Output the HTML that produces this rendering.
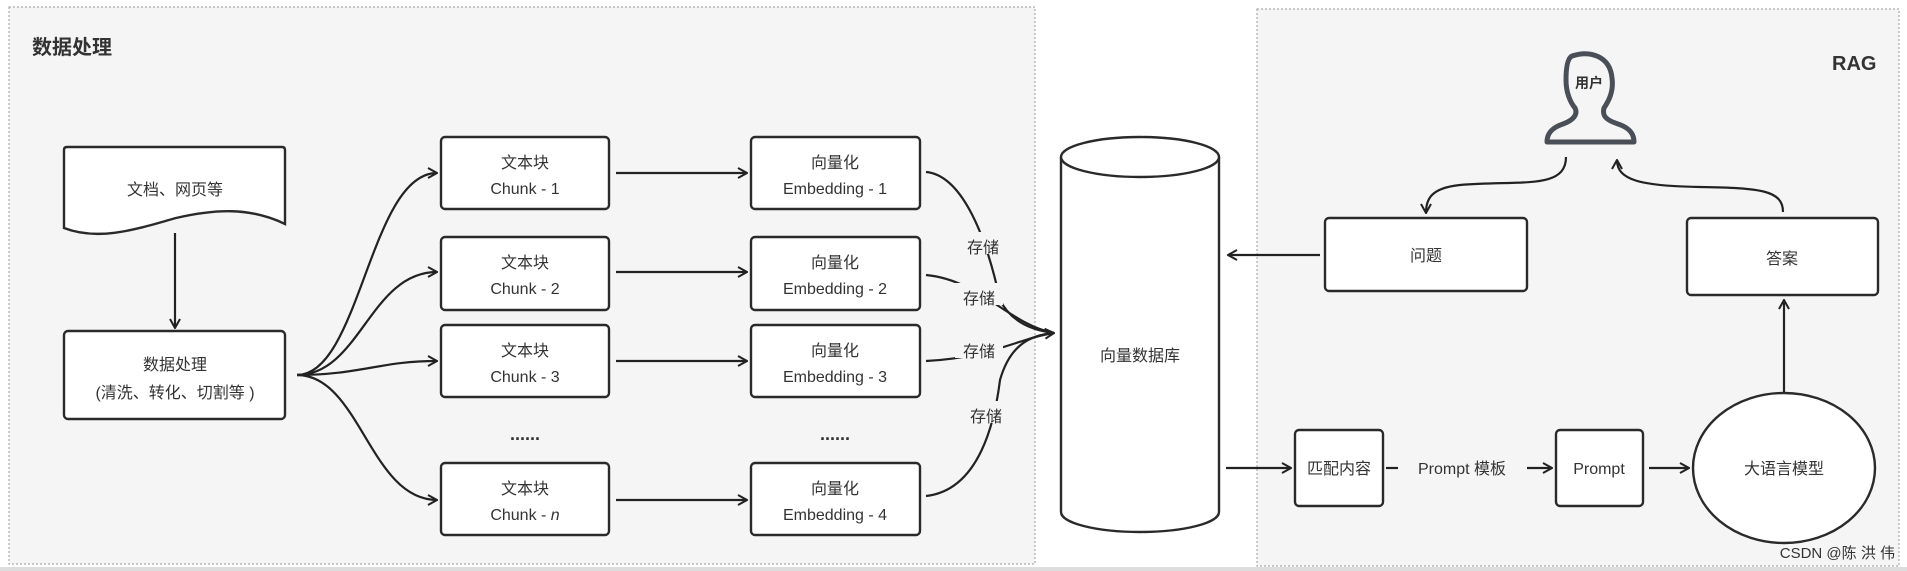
<!DOCTYPE html>
<html><head><meta charset="utf-8"><style>
html,body{margin:0;padding:0;background:#fff;width:1907px;height:571px;overflow:hidden}
svg{display:block}
text{font-family:"Liberation Sans","Noto Sans CJK SC",sans-serif;fill:#333}
</style></head><body>
<svg width="1907" height="571" viewBox="0 0 1907 571" xmlns="http://www.w3.org/2000/svg">
<defs>
<marker id="a" viewBox="0 0 12 12" refX="11" refY="6" markerWidth="12" markerHeight="12" markerUnits="userSpaceOnUse" orient="auto">
<polyline points="2,1 11,6 2,11" fill="none" stroke="#222" stroke-width="2"/>
</marker>
</defs>
<rect x="0" y="0" width="1907" height="571" fill="#fff"/>
<rect x="9" y="7" width="1026" height="557" fill="#f5f5f5" stroke="#aaa" stroke-width="1.2" stroke-dasharray="2,2"/>
<rect x="1257" y="9" width="642" height="557" fill="#f5f5f5" stroke="#aaa" stroke-width="1.2" stroke-dasharray="2,2"/>
<rect x="0" y="567" width="1907" height="4" fill="#ddd"/>
<text x="32" y="54" font-size="20" font-weight="bold" fill="#222">数据处理</text>
<text x="1832" y="70" font-size="20" font-weight="bold" fill="#222">RAG</text>

<g stroke="#2a2a2a" stroke-width="2.4" fill="#fff">
<path d="M64,150 Q64,147 67,147 H282 Q285,147 285,150 V224 C250,207 215,209 176,218 C140,228 100,242 64,228 Z"/>
<rect x="64" y="331" width="221" height="88" rx="4"/>
<rect x="441" y="137" width="168" height="72" rx="4"/>
<rect x="441" y="237" width="168" height="73" rx="4"/>
<rect x="441" y="325" width="168" height="72" rx="4"/>
<rect x="441" y="463" width="168" height="72" rx="4"/>
<rect x="751" y="137" width="169" height="72" rx="4"/>
<rect x="751" y="237" width="169" height="73" rx="4"/>
<rect x="751" y="325" width="169" height="72" rx="4"/>
<rect x="751" y="463" width="169" height="72" rx="4"/>
<path d="M1061,157 V512 A79,20 0 0 0 1219,512 V157"/>
<ellipse cx="1140" cy="157" rx="79" ry="20"/>
<rect x="1325" y="218" width="202" height="73" rx="4"/>
<rect x="1687" y="218" width="191" height="77" rx="4"/>
<rect x="1295" y="430" width="88" height="76" rx="4"/>
<rect x="1556" y="430" width="87" height="76" rx="4"/>
<ellipse cx="1784" cy="468" rx="91" ry="75"/>
</g>
<path d="M1572,56 C1590,50 1610,56 1612,78 C1614,92 1608,102 1604,108 C1602,116 1606,120 1618,124 C1630,128 1634,134 1634,142 H1547 C1547,134 1551,128 1563,124 C1574,120 1578,114 1575,108 C1570,102 1566,92 1566,80 C1566,66 1568,58 1572,56 Z" fill="none" stroke="#4a4f57" stroke-width="5" stroke-linejoin="round"/>
<text x="1589" y="88" font-size="14" font-weight="bold" text-anchor="middle" fill="#222">用户</text>

<g stroke="#222" stroke-width="2.2" fill="none">
<line x1="175" y1="233" x2="175" y2="328" marker-end="url(#a)"/>
<path d="M297,375 C360,375 370,173 437,173" marker-end="url(#a)"/>
<path d="M297,375 C360,375 370,272 437,272" marker-end="url(#a)"/>
<path d="M297,375 C360,375 380,361 437,361" marker-end="url(#a)"/>
<path d="M297,375 C360,375 370,500 437,500" marker-end="url(#a)"/>
<line x1="616" y1="173" x2="747" y2="173" marker-end="url(#a)"/>
<line x1="616" y1="272" x2="747" y2="272" marker-end="url(#a)"/>
<line x1="616" y1="361" x2="747" y2="361" marker-end="url(#a)"/>
<line x1="616" y1="500" x2="747" y2="500" marker-end="url(#a)"/>
<path d="M926,172 C960,175 985,230 1000,300 C1010,320 1030,330 1054,333"/>
<path d="M926,275 C980,280 1010,325 1054,333"/>
<path d="M926,361 C990,358 1020,338 1054,333"/>
<path d="M926,496 C980,490 995,420 1000,380 C1010,345 1030,335 1054,333" marker-end="url(#a)"/>
<line x1="1320" y1="255" x2="1228" y2="255" marker-end="url(#a)"/>
<line x1="1226" y1="468" x2="1291" y2="468" marker-end="url(#a)"/>
<line x1="1386" y1="468" x2="1398" y2="468"/>
<line x1="1527" y1="468" x2="1552" y2="468" marker-end="url(#a)"/>
<line x1="1649" y1="468" x2="1689" y2="468" marker-end="url(#a)"/>
<line x1="1784" y1="392" x2="1784" y2="300" marker-end="url(#a)"/>
<path d="M1566,157 C1566,190 1520,180 1460,185 C1430,188 1426,200 1426,213" marker-end="url(#a)"/>
<path d="M1783,212 C1783,190 1760,188 1700,187 C1640,186 1617,180 1617,160" marker-end="url(#a)"/>
</g>
<g font-size="16" fill="#333">
<rect x="958" y="232" width="48" height="22" fill="#f5f5f5"/>
<rect x="955" y="283" width="48" height="22" fill="#f5f5f5"/>
<rect x="955" y="336" width="48" height="22" fill="#f5f5f5"/>
<rect x="962" y="401" width="48" height="22" fill="#f5f5f5"/>
<text x="983" y="253" text-anchor="middle">存储</text>
<text x="979" y="304" text-anchor="middle">存储</text>
<text x="979" y="357" text-anchor="middle">存储</text>
<text x="986" y="422" text-anchor="middle">存储</text>
</g>
<g font-size="16" text-anchor="middle">
<text x="175" y="195">文档、网页等</text>
<text x="175" y="370">数据处理</text>
<text x="175" y="398">(清洗、转化、切割等 )</text>
<text x="525" y="168">文本块</text><text x="525" y="194">Chunk - 1</text>
<text x="525" y="268">文本块</text><text x="525" y="294">Chunk - 2</text>
<text x="525" y="356">文本块</text><text x="525" y="382">Chunk - 3</text>
<text x="525" y="494">文本块</text><text x="525" y="520">Chunk - <tspan font-style="italic">n</tspan></text>
<text x="835" y="168">向量化</text><text x="835" y="194">Embedding - 1</text>
<text x="835" y="268">向量化</text><text x="835" y="294">Embedding - 2</text>
<text x="835" y="356">向量化</text><text x="835" y="382">Embedding - 3</text>
<text x="835" y="494">向量化</text><text x="835" y="520">Embedding - 4</text>
<text x="525" y="440" font-weight="bold" font-size="18">......</text>
<text x="835" y="440" font-weight="bold" font-size="18">......</text>
<text x="1140" y="361">向量数据库</text>
<text x="1426" y="261">问题</text>
<text x="1782" y="264">答案</text>
<text x="1339" y="474">匹配内容</text>
<text x="1462" y="474">Prompt 模板</text>
<text x="1599" y="474">Prompt</text>
<text x="1784" y="474">大语言模型</text>
</g>
<text x="1895" y="558" font-size="15" text-anchor="end" fill="#888">CSDN @陈 洪 伟</text>
</svg>
</body></html>
